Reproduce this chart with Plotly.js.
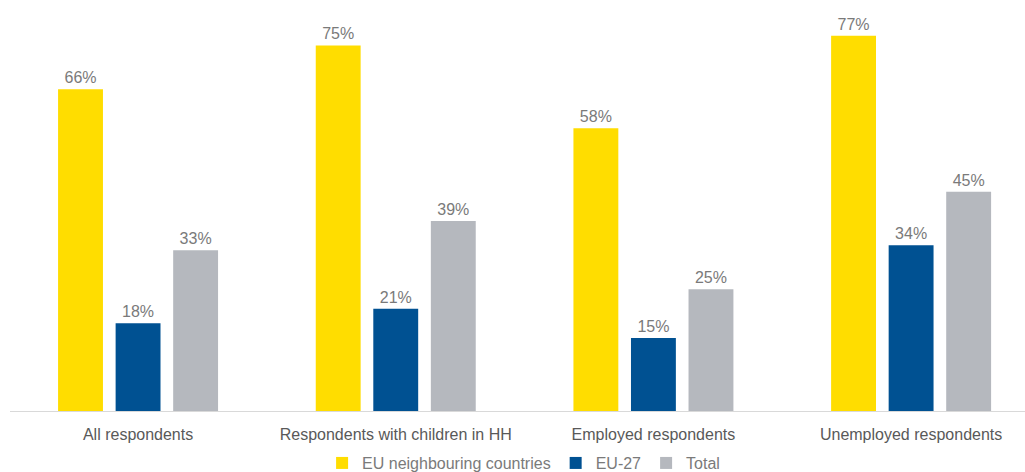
<!DOCTYPE html>
<html>
<head>
<meta charset="utf-8">
<script src="https://cdn.plot.ly/plotly-3.0.1.min.js"></script>
<style>html,body{margin:0;padding:0;background:#fff;}#chart{width:1025px;height:472px;}</style>
</head>
<body>
<div id="chart"></div>
<script>
var categories = ["All respondents", "Respondents with children in HH", "Employed respondents", "Unemployed respondents"];
var seriesNames = ["EU neighbouring countries", "EU-27", "Total"];
var euNeighbouring = [66, 75, 58, 77];
var eu27 = [18, 21, 15, 34];
var total = [33, 39, 25, 45];
var colors = ["#FFDD00", "#005192", "#B5B8BE"];

var seriesValues = [euNeighbouring, eu27, total];
var traces = seriesValues.map(function (vals, i) {
  return {
    type: "bar",
    name: seriesNames[i],
    x: categories,
    y: vals,
    marker: {color: colors[i]},
    text: vals.map(function (v) { return v + "%"; }),
    textposition: "outside",
    cliponaxis: false,
    textfont: {family: "Liberation Sans, Arial, sans-serif", size: 16, color: "#7a7a7a"},
    hoverinfo: "none"
  };
});

var layout = {
  width: 1025,
  height: 472,
  margin: {l: 10, r: 0, t: 21, b: 61, autoexpand: false},
  barmode: "group",
  bargap: 0.33,
  bargroupgap: 0.22,
  paper_bgcolor: "#fff",
  plot_bgcolor: "#fff",
  font: {family: "Liberation Sans, Arial, sans-serif", size: 16, color: "#595959"},
  xaxis: {
    range: [-0.497, 3.442],
    showline: true,
    linecolor: "#d9d9d9",
    linewidth: 1,
    ticks: "",
    ticklabelstandoff: 9,
    showgrid: false,
    automargin: false,
    tickfont: {size: 16, color: "#595959"}
  },
  yaxis: {
    range: [0, 80],
    visible: false,
    showgrid: false,
    zeroline: false,
    automargin: false
  },
  showlegend: true,
  legend: {
    orientation: "h",
    x: 0.506,
    xanchor: "center",
    yref: "container",
    y: 0.055,
    yanchor: "top",
    bgcolor: "rgba(0,0,0,0)",
    font: {size: 16, color: "#7a7a7a"},
    itemwidth: 30,
    traceorder: "normal"
  }
};

Plotly.newPlot("chart", traces, layout, {displayModeBar: false, staticPlot: true});
</script>
</body>
</html>
